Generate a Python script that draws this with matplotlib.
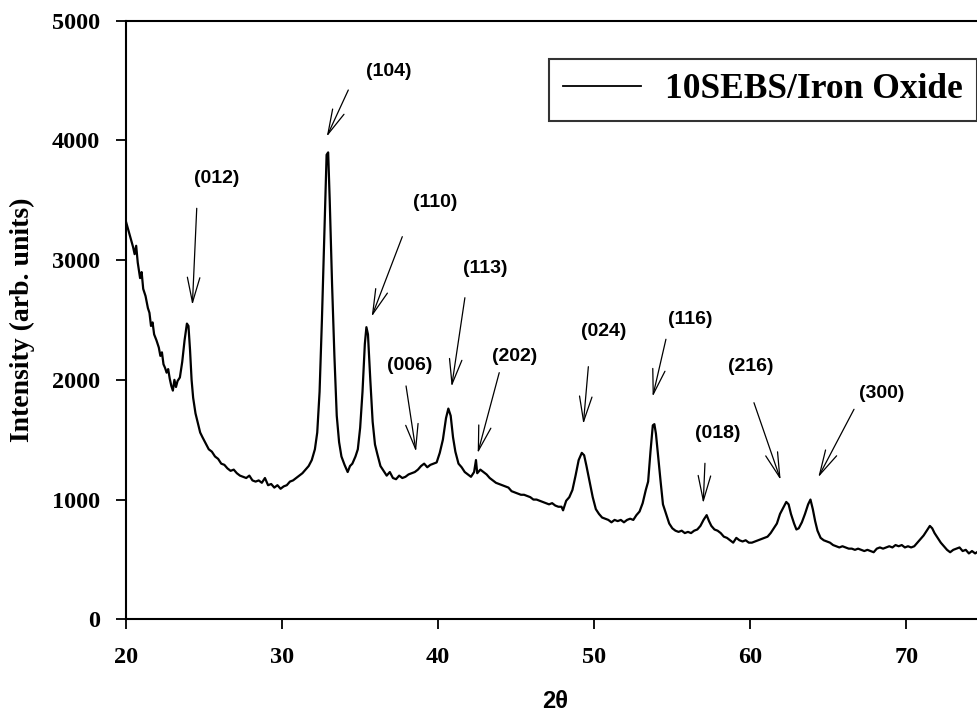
import matplotlib
matplotlib.use("Agg")
import matplotlib.pyplot as plt

# ---------------- data ----------------
two_theta = [
    20.0, 20.15, 20.3, 20.45, 20.55, 20.65, 20.75, 20.9, 21.0, 21.1, 21.25, 21.4, 21.5, 21.6, 21.7,
    21.8, 21.95, 22.1, 22.2, 22.3, 22.4, 22.5, 22.6, 22.7, 22.8, 22.9, 23.0, 23.1, 23.2, 23.3,
    23.45, 23.6, 23.75, 23.9, 24.0, 24.1, 24.2, 24.3, 24.45, 24.6, 24.75, 24.9, 25.1, 25.3, 25.5,
    25.7, 25.9, 26.1, 26.3, 26.5, 26.7, 26.9, 27.1, 27.3, 27.5, 27.7, 27.9, 28.1, 28.3, 28.5,
    28.7, 28.9, 29.1, 29.3, 29.5, 29.7, 29.9, 30.1, 30.3, 30.5, 30.7, 30.9, 31.1, 31.3, 31.5,
    31.7, 31.9, 32.1, 32.25, 32.4, 32.55, 32.7, 32.85, 32.95, 33.05, 33.2, 33.35, 33.5, 33.65, 33.8,
    34.0, 34.2, 34.35, 34.5, 34.7, 34.85, 35.0, 35.15, 35.3, 35.4, 35.5, 35.65, 35.8, 35.95, 36.1,
    36.3, 36.5, 36.7, 36.9, 37.1, 37.3, 37.5, 37.7, 37.9, 38.1, 38.3, 38.5, 38.7, 38.9, 39.1,
    39.3, 39.5, 39.7, 39.9, 40.1, 40.3, 40.5, 40.65, 40.8, 40.95, 41.1, 41.3, 41.5, 41.7, 41.9,
    42.1, 42.3, 42.42, 42.5, 42.7, 42.9, 43.1, 43.3, 43.5, 43.7, 43.9, 44.1, 44.3, 44.5, 44.7,
    44.9, 45.1, 45.3, 45.5, 45.7, 45.9, 46.1, 46.3, 46.5, 46.7, 46.9, 47.1, 47.3, 47.5, 47.7,
    47.9, 48.0, 48.2, 48.4, 48.6, 48.8, 49.0, 49.2, 49.35, 49.5, 49.7, 49.9, 50.1, 50.3, 50.5,
    50.7, 50.9, 51.1, 51.3, 51.5, 51.7, 51.9, 52.1, 52.3, 52.5, 52.7, 52.9, 53.1, 53.3, 53.45,
    53.6, 53.75, 53.85, 53.95, 54.1, 54.25, 54.4, 54.6, 54.8, 55.0, 55.2, 55.4, 55.6, 55.8, 56.0,
    56.2, 56.4, 56.6, 56.8, 57.0, 57.2, 57.35, 57.5, 57.7, 57.9, 58.1, 58.3, 58.5, 58.7, 58.9,
    59.1, 59.3, 59.5, 59.7, 59.9, 60.1, 60.3, 60.5, 60.7, 60.9, 61.1, 61.3, 61.5, 61.7, 61.9,
    62.1, 62.3, 62.45, 62.6, 62.8, 62.95, 63.1, 63.3, 63.5, 63.7, 63.85, 64.0, 64.15, 64.3, 64.5,
    64.7, 64.9, 65.1, 65.3, 65.5, 65.7, 65.9, 66.1, 66.3, 66.5, 66.7, 66.9, 67.1, 67.3, 67.5,
    67.7, 67.9, 68.1, 68.3, 68.5, 68.7, 68.9, 69.1, 69.3, 69.5, 69.7, 69.9, 70.1, 70.3, 70.5,
    70.7, 70.9, 71.1, 71.3, 71.5, 71.65, 71.8, 72.0, 72.2, 72.4, 72.6, 72.8, 73.0, 73.2, 73.4,
    73.6, 73.8, 74.0, 74.2, 74.4, 74.52,
]
intensity = [
    3320, 3250, 3180, 3110, 3050, 3120, 2980, 2850, 2900, 2760, 2700, 2600, 2560, 2450, 2480,
    2380, 2330, 2270, 2200, 2230, 2130, 2100, 2060, 2090, 2010, 1950, 1910, 2000, 1940, 1990,
    2020, 2150, 2330, 2470, 2450, 2250, 2000, 1850, 1720, 1640, 1560, 1520, 1470, 1420, 1400,
    1360, 1340, 1300, 1290, 1260, 1240, 1250, 1220, 1200, 1190, 1180, 1200, 1160, 1150, 1160,
    1140, 1180, 1120, 1130, 1100, 1120, 1090, 1110, 1120, 1150, 1160, 1180, 1200, 1220, 1250,
    1280, 1330, 1420, 1560, 1900, 2500, 3200, 3880, 3900, 3500, 2800, 2200, 1700, 1480, 1360,
    1290, 1230, 1280, 1300, 1360, 1420, 1600, 1900, 2300, 2440, 2380, 2000, 1650, 1460, 1380,
    1280, 1240, 1200, 1230, 1180, 1170, 1200, 1180, 1190, 1210, 1220, 1230, 1250, 1280, 1300,
    1270, 1290, 1300, 1310, 1390, 1500, 1680, 1760, 1700, 1520, 1400, 1300, 1270, 1230, 1210,
    1190, 1230, 1330, 1220, 1250, 1230, 1210, 1180, 1160, 1140, 1130, 1120, 1110, 1100, 1070,
    1060, 1050, 1040, 1040, 1030, 1020, 1000, 1000, 990, 980, 970, 960, 970, 950, 940,
    940, 910, 990, 1020, 1080, 1200, 1330, 1390, 1370, 1280, 1150, 1020, 920, 880, 850,
    840, 830, 810, 830, 820, 830, 810, 830, 840, 830, 870, 900, 970, 1080, 1150,
    1400, 1620, 1630, 1550, 1350, 1150, 960, 880, 800, 760, 740, 730, 740, 720, 730,
    720, 740, 750, 780, 830, 870, 820, 780, 750, 740, 720, 690, 680, 660, 640,
    680, 660, 650, 660, 640, 640, 650, 660, 670, 680, 690, 720, 760, 800, 880,
    930, 980, 960, 880, 800, 750, 760, 810, 880, 960, 1000, 920, 820, 740, 680,
    660, 650, 640, 620, 610, 600, 610, 600, 590, 590, 580, 590, 580, 570, 580,
    570, 560, 590, 600, 590, 600, 610, 600, 620, 610, 620, 600, 610, 600, 610,
    640, 670, 700, 740, 780, 760, 720, 680, 640, 610, 580, 560, 580, 590, 600,
    570, 580, 550, 570, 550, 560,
]

series_label = "10SEBS/Iron Oxide"
x_ticks = [20, 30, 40, 50, 60, 70]
y_ticks = [0, 1000, 2000, 3000, 4000, 5000]

# peak annotations: label, arrow head (x, y), arrow tail (x, y), text centre (x, y)
peak_labels = ["(012)", "(104)", "(110)", "(006)", "(113)", "(202)", "(024)",
               "(116)", "(018)", "(216)", "(300)"]
arrow_heads = [(24.25, 2625), (32.86, 4031), (35.74, 2528), (38.58, 1400), (40.86, 1943),
               (42.53, 1387), (49.30, 1631), (53.74, 1859), (56.98, 969), (61.94, 1164),
               (64.35, 1186)]
arrow_tails = [(24.53, 3433), (34.24, 4421), (37.70, 3196), (37.94, 1949), (41.71, 2686),
               (43.91, 2060), (49.62, 2110), (54.59, 2339), (57.09, 1303), (60.23, 1809),
               (66.64, 1754)]
label_pos = [(25.81, 3684), (36.80, 4574), (39.80, 3480), (38.19, 2124), (43.00, 2926),
             (44.92, 2193), (50.58, 2408), (56.13, 2500), (57.94, 1554), (60.02, 2110),
             (68.41, 1888)]

# ---------------- figure ----------------
SERIF = ["Liberation Serif", "DejaVu Serif"]
SANS = ["Liberation Sans", "DejaVu Sans"]
plt.rcParams["font.family"] = SERIF
plt.rcParams["font.weight"] = "bold"

fig = plt.figure(figsize=(9.77, 7.19), dpi=100)
ax = fig.add_axes([0.129, 0.1387, 0.871, 0.8325])

ax.plot(two_theta, intensity, color="black", lw=1.6, label=series_label)

ax.set_xlim(20, 74.52)
ax.set_ylim(0, 5000)
ax.set_xticks(x_ticks)
ax.set_yticks(y_ticks)
ax.tick_params(direction="out", length=7, width=1.3, labelsize=17.5)
ax.tick_params(axis="x", pad=13)
ax.tick_params(axis="y", pad=12)

for s in ["left", "bottom", "top"]:
    ax.spines[s].set_linewidth(1.5)
ax.spines["right"].set_visible(False)

ax.set_ylabel("Intensity (arb. units)", fontfamily=SERIF, fontweight="bold", fontsize=20)
ax.yaxis.set_label_coords(-0.1214, 0.5)
ax.yaxis.label.set_verticalalignment("center")
fig.text(555 / 977, 1 - 701.7 / 719, "2θ", ha="center", va="center",
         fontfamily=SANS, fontweight="bold", fontsize=17)

for lab, head, tail, pos in zip(peak_labels, arrow_heads, arrow_tails, label_pos):
    ax.annotate("", xy=head, xytext=tail,
                arrowprops=dict(arrowstyle="->,head_length=1.8,head_width=0.45",
                                mutation_scale=10, lw=0.9, color="black",
                                shrinkA=0, shrinkB=0))
    ax.text(pos[0], pos[1], lab, ha="center", va="center",
            fontfamily=SANS, fontweight="bold", fontsize=14)

leg = ax.legend(loc="upper right", bbox_to_anchor=(1.0, 0.9355),
                prop=dict(family=SERIF, weight="bold", size=25.5),
                frameon=True, fancybox=False, edgecolor="black",
                handlelength=2.2, handletextpad=0.68, borderpad=0.4,
                borderaxespad=0.0)
leg.get_frame().set_linewidth(1.5)
for line in leg.get_lines():
    line.set_linewidth(1.3)

fig.savefig("out.png", dpi=100)
